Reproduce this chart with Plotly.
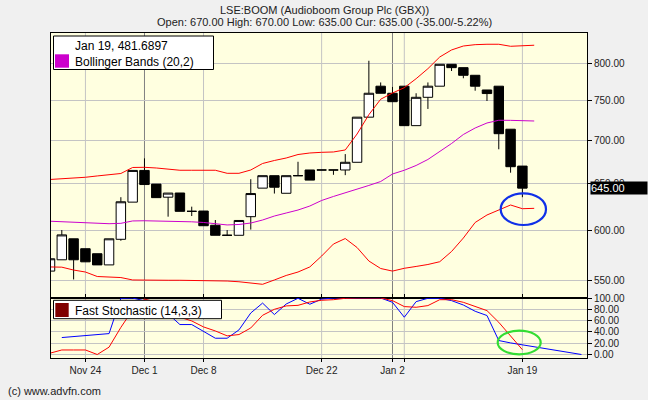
import math
import plotly.graph_objects as go

# ---------------- data ----------------
dates = ["Nov 19", "Nov 20", "Nov 21", "Nov 24", "Nov 25", "Nov 26", "Nov 27", "Nov 28",
         "Dec 1", "Dec 2", "Dec 3", "Dec 4", "Dec 5",
         "Dec 8", "Dec 9", "Dec 10", "Dec 11", "Dec 12",
         "Dec 15", "Dec 16", "Dec 17", "Dec 18", "Dec 19",
         "Dec 22", "Dec 23", "Dec 24", "Dec 29", "Dec 30", "Dec 31",
         "Jan 2", "Jan 5", "Jan 6", "Jan 7", "Jan 8", "Jan 9",
         "Jan 12", "Jan 13", "Jan 14", "Jan 15", "Jan 16", "Jan 19"]

opens = [559, 570, 591, 581, 576, 565, 590.5, 629.6,
         665, 649.5, 635, 639.6, 619.7,
         620, 605, 594.6, 594.6, 614,
         645, 659, 639.3, 659, 665.5,
         665.5, 665.5, 665.5, 674.4, 729, 769,
         759.7, 769, 718.4, 754.4, 769, 798.6,
         794, 783.6, 764, 769, 714, 670]
highs = [571, 600, 591, 581, 576, 591, 635, 665,
         679, 649.5, 639.5, 639.6, 624.7,
         620, 610.5, 600, 610, 655,
         659, 659, 659, 675, 665.5,
         665.5, 665.5, 684, 729, 803.5, 774,
         768, 769, 759.7, 774, 798.6, 798.6,
         794, 783.6, 764, 769, 714, 670]
lows = [559, 570, 551, 568, 565, 565, 589, 629.6,
        649, 634.5, 614, 619.7, 614.7,
        604.5, 594.6, 594.6, 594.6, 600.5,
        645, 639, 639.3, 659, 654,
        665.5, 660, 659.6, 674.4, 729, 759.7,
        748.7, 718.4, 718.4, 739.4, 769, 789.4,
        779.6, 763, 749.6, 689.7, 662.4, 635]
closes = [571, 595, 570, 568, 565, 591, 630, 665,
          649, 634.5, 639.5, 619.7, 619.7,
          604.5, 594.6, 594.6, 610, 639,
          659, 646, 659, 659, 654,
          665.5, 665.5, 674.4, 729, 759.7, 759.7,
          748.7, 718.4, 754.4, 769, 798.6, 794,
          783.6, 769, 759.3, 708.5, 669.3, 645]

bb_upper = [654.7, 655.3, 656.4, 657.2, 658.7, 659.8, 661.5, 668.4, 668.6, 667.8,
            666.6, 665.2, 665.2, 665.2, 665.2, 661.7, 661.7, 665.5, 673.0, 676.5,
            679.4, 683.5, 685.3, 686.1, 686.5, 688.9, 708.1, 732.1, 751.9, 760.0,
            767.0, 779.0, 792.6, 808.7, 818.6, 824.2, 826.1, 826.7, 826.7, 823.8,
            824.7, 825.3]
bb_mid = [609.2, 608.6, 608.1, 607.7, 607.1, 606.6, 607.0, 609.5, 609.7, 609.5,
          609.2, 608.9, 608.6, 607.9, 606.5, 605.3, 605.8, 607.3, 610.5, 614.7,
          617.9, 621.1, 625.4, 631.4, 635.8, 639.6, 643.5, 648.0, 652.4, 660.9,
          665.2, 670.7, 677.7, 687.1, 696.6, 707.5, 715.5, 721.7, 725.1, 725.0,
          724.6, 724.2]
bb_lower = [563.0, 562.8, 560.0, 558.1, 553.8, 553.6, 552.8, 550.5, 550.2, 550.2,
            550.2, 550.2, 550.2, 550.2, 550.2, 549.5, 548.8, 547.6, 546.4, 550.5,
            554.8, 558.1, 563.0, 573.7, 585.7, 591.3, 582.2, 568.8, 561.5, 559.0,
            561.7, 563.5, 565.4, 568.1, 578.2, 591.8, 607.9, 615.8, 621.1, 626.5,
            622.5, 622.9]

stoch_k = [None, 30, 32, 33.5, 35, 37, 99.5, 100, 95, 85,
           72, 53, 53, 41, 28.8, 28.8, 43.5, 73.5, 91, 70.7,
           89.4, 99.5, 89, 98, 100, 100, 100, 100, 100, 92.4,
           66, 93.6, 99.5, 99.5, 95.4, 87.6, 76.5, 69, 24.7, 20.5,
           17, None, None, None, None, 0]
stoch_d = [2.3, 8, 8, 8, 0, 13, 48, 79, 98, 93,
           84, 66, 59.4, 48.8, 41.7, 33, 35.3, 47, 69.4, 80,
           86, 87, 93, 96, 97, 99.5, 100, 100, 100, 95.4,
           84.8, 83.6, 86.6, 97, 97, 92.4, 85.3, 77.7, 57, 33.6,
           8.5]

label_dates = ["Nov 24", "Dec 1", "Dec 8", "Dec 22", "Jan 2", "Jan 5", "Jan 19"]
shown_labels = ["Nov 24", "Dec 1", "Dec 8", "Dec 22", "Jan 2", "", "Jan 19"]
grid_dates = ["Nov 24", "Dec 8", "Dec 22", "Jan 5", "Jan 19"]
month_dates = ["Dec 1", "Jan 2"]
price_ticks = [550, 600, 650, 700, 750, 800]
stoch_ticks = [0, 20, 40, 60, 80, 100]

title1 = "LSE:BOOM (Audioboom Group Plc (GBX))"
title2 = "Open: 670.00 High: 670.00 Low: 635.00 Cur: 635.00 (-35.00/-5.22%)"
legend1_head = "Jan 19, 481.6897"
legend1_name = "Bollinger Bands (20,2)"
legend2_name = "Fast Stochastic (14,3,3)"
footer = "(c) www.advfn.com"

# ---------------- layout helpers ----------------
FIG_W, FIG_H = 648, 400
PL, PR, PT, PB = 51, 587, 33, 358  # plot area in page pixels
BG = "#F0F0F0"


def px(X):
    return (X - PL) / (PR - PL)


def py(Y):
    return (PB - Y) / (PB - PT)


split = py(297.5)
FONT = "Liberation Sans, Arial, sans-serif"
TXT = "#222222"

xs = list(range(len(dates)))

fig = go.Figure()

fig.add_trace(go.Candlestick(
    x=xs, open=opens, high=highs, low=lows, close=closes,
    increasing=dict(line=dict(color="black", width=1), fillcolor="white"),
    decreasing=dict(line=dict(color="black", width=1), fillcolor="black"),
    whiskerwidth=0, xaxis="x", yaxis="y", showlegend=False, hoverinfo="skip"))

for vals, col in [(bb_upper, "#FF0000"), (bb_mid, "#CC00CC"), (bb_lower, "#FF0000")]:
    fig.add_trace(go.Scatter(x=list(range(len(vals))), y=vals, mode="lines",
                             line=dict(color=col, width=1), xaxis="x", yaxis="y",
                             showlegend=False, hoverinfo="skip"))

fig.add_trace(go.Scatter(x=list(range(len(stoch_k))), y=stoch_k, mode="lines",
                         connectgaps=True, line=dict(color="#0000FF", width=1),
                         xaxis="x", yaxis="y2", showlegend=False, hoverinfo="skip"))
fig.add_trace(go.Scatter(x=list(range(len(stoch_d))), y=stoch_d, mode="lines",
                         line=dict(color="#FF0000", width=1),
                         xaxis="x", yaxis="y2", showlegend=False, hoverinfo="skip"))

shapes = []
for d in grid_dates:
    i = dates.index(d)
    shapes.append(dict(type="line", xref="x", yref="paper", x0=i, x1=i, y0=0, y1=1,
                       line=dict(color="#C4C4C4", width=1), layer="below"))
for d in month_dates:
    i = dates.index(d)
    shapes.append(dict(type="line", xref="x", yref="paper", x0=i, x1=i, y0=0, y1=1,
                       line=dict(color="#808080", width=1), layer="below"))

# legend boxes
shapes.append(dict(type="rect", xref="paper", yref="paper",
                   x0=px(53.5), x1=px(213.5), y0=py(69.5), y1=py(36),
                   fillcolor="white", line=dict(color="black", width=1), layer="above"))
shapes.append(dict(type="rect", xref="paper", yref="paper",
                   x0=px(55), x1=px(69), y0=py(67.7), y1=py(54.3),
                   fillcolor="#CC00CC", line=dict(width=0), layer="above"))
shapes.append(dict(type="rect", xref="paper", yref="paper",
                   x0=px(53.5), x1=px(221.5), y0=py(318.7), y1=py(300.3),
                   fillcolor="white", line=dict(color="black", width=1), layer="above"))
shapes.append(dict(type="rect", xref="paper", yref="paper",
                   x0=px(55.3), x1=px(68.7), y0=py(317), y1=py(303),
                   fillcolor="#800000", line=dict(width=0), layer="above"))
# highlight ellipses
shapes.append(dict(type="circle", xref="paper", yref="paper",
                   x0=px(500.7), x1=px(546), y0=py(225), y1=py(193.3),
                   line=dict(color="#1030E8", width=2.2), layer="above"))
shapes.append(dict(type="circle", xref="paper", yref="paper",
                   x0=px(497.7), x1=px(540.7), y0=py(354.3), y1=py(330.7),
                   line=dict(color="#33DD33", width=2.2), layer="above"))

annotations = [
    dict(text=title1, xref="paper", yref="paper", x=px(324), y=py(10),
         showarrow=False, font=dict(size=11, color=TXT, family=FONT), xanchor="center", yanchor="middle"),
    dict(text=title2, xref="paper", yref="paper", x=px(324), y=py(22),
         showarrow=False, font=dict(size=11, color=TXT, family=FONT), xanchor="center", yanchor="middle"),
    dict(text=legend1_head, xref="paper", yref="paper", x=px(73), y=py(45.7),
         showarrow=False, font=dict(size=12, color="black", family=FONT), xanchor="left", yanchor="middle"),
    dict(text=legend1_name, xref="paper", yref="paper", x=px(73), y=py(61.5),
         showarrow=False, font=dict(size=12, color="black", family=FONT), xanchor="left", yanchor="middle"),
    dict(text=legend2_name, xref="paper", yref="paper", x=px(73), y=py(310.5),
         showarrow=False, font=dict(size=12, color="black", family=FONT), xanchor="left", yanchor="middle"),
    dict(text=footer, xref="paper", yref="paper", x=px(6), y=py(391),
         showarrow=False, font=dict(size=11, color=TXT, family=FONT), xanchor="left", yanchor="middle"),
    dict(text=f"{closes[-1]:.2f}", xref="paper", yref="y", x=px(589.5), y=math.log10(closes[-1]),
         showarrow=False, font=dict(size=11, color="white", family=FONT), xanchor="left",
         yanchor="middle", bgcolor="black", width=56, height=12, align="left", borderpad=0),
]

axis_common = dict(showline=True, linecolor="black", linewidth=1, zeroline=False,
                   tickfont=dict(size=10, color=TXT, family=FONT), ticks="outside",
                   tickcolor="black")

fig.update_layout(
    width=FIG_W, height=FIG_H,
    margin=dict(l=PL, r=FIG_W - PR, t=PT, b=FIG_H - PB, pad=0),
    paper_bgcolor=BG, plot_bgcolor="#FFFFE0",
    showlegend=False, boxgap=0.2, boxgroupgap=0, hovermode=False,
    xaxis=dict(domain=[0, 1], anchor="y2", range=[0.085, 45.47],
               tickmode="array", tickvals=[dates.index(d) for d in label_dates],
               ticktext=shown_labels, showgrid=False, mirror="all",
               rangeslider=dict(visible=False), ticklen=3, **axis_common),
    yaxis=dict(domain=[split, 1], anchor="x", type="log", side="right",
               range=[math.log10(534.1), math.log10(842.9)],
               tickmode="array", tickvals=price_ticks, ticktext=[f"{v:.2f}" for v in price_ticks],
               showgrid=True, gridcolor="#C4C4C4", gridwidth=1, mirror=True, ticklen=4, **axis_common),
    yaxis2=dict(domain=[0, split], anchor="x", side="right", range=[-6.2, 100.9],
                tickmode="array", tickvals=stoch_ticks, ticktext=[f"{v:.2f}" for v in stoch_ticks],
                showgrid=True, gridcolor="#C4C4C4", gridwidth=1, mirror=True, ticklen=4, **axis_common),
    shapes=shapes, annotations=annotations,
)

# remove the default 8px page margin so the 648x400 figure fills the window exactly
fig.write_html("out.html", config={"displayModeBar": False},
               post_script=f"document.body.style.margin='0';document.body.style.background='{BG}';")
